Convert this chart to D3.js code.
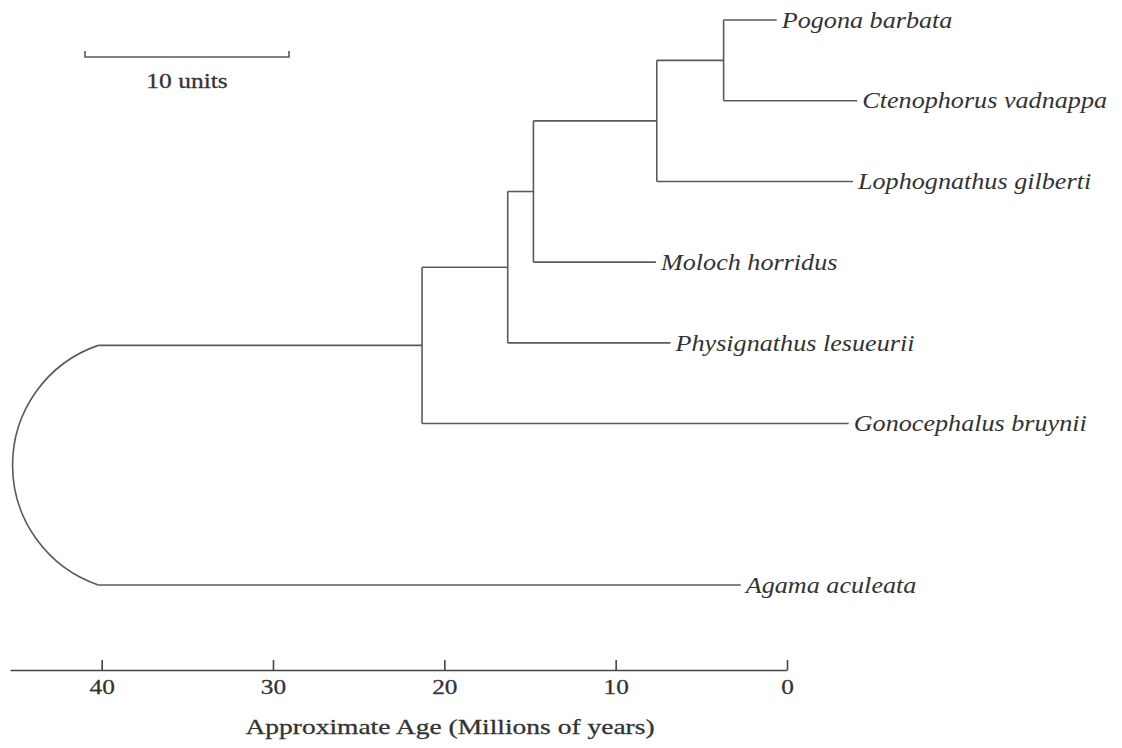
<!DOCTYPE html>
<html>
<head>
<meta charset="utf-8">
<script src="https://cdn.jsdelivr.net/npm/d3@7/dist/d3.min.js"></script>
<style>
  body { margin: 0; background: #fff; }
  .tree path, .tree line { stroke: #5a5a5a; stroke-width: 1.6; fill: none; }
  .taxon { font-family: "Liberation Serif", serif; font-style: italic; font-size: 24px; fill: #333; }
  .axis text { font-family: "Liberation Serif", serif; font-size: 22px; fill: #333; stroke: #333; stroke-width: 0.3; }
  .axis path, .axis line { stroke: #444; stroke-width: 1.6; }
  .title { font-family: "Liberation Serif", serif; font-size: 22px; fill: #333; stroke: #333; stroke-width: 0.3; }
</style>
</head>
<body>
<div class="chart"></div>
<script>
var width = 1122;
var height = 748;

// leaves, top to bottom
var taxa = ["Pogona barbata", "Ctenophorus vadnappa", "Lophognathus gilberti",
  "Moloch horridus", "Physignathus lesueurii", "Gonocephalus bruynii", "Agama aculeata"];
var taxonRow = [0, 1, 2, 3, 4, 5, 7];
// where each tip line stops (axis units, Myr; negative = right of 0)
var tipEnd = [0.6, -4.1, -3.85, 7.65, 6.8, -3.6, 2.7];

// internal nodes, with their two children and age (Myr)
var nodeNames = ["A", "B", "C", "D", "E"];
var nodeChildren = [
  ["Pogona barbata", "Ctenophorus vadnappa"],
  ["A", "Lophognathus gilberti"],
  ["B", "Moloch horridus"],
  ["C", "Physignathus lesueurii"],
  ["D", "Gonocephalus bruynii"]
];
var nodeAge = [3.7, 7.6, 14.8, 16.3, 21.3];

// root joins E and Agama with a curved bracket
var rootChildren = ["E", "Agama aculeata"];
var rootAge = 40.2;
var rootArcAge = 45.2;

var ageTicks = [40, 30, 20, 10, 0];
var axisStart = 45.35;
var scaleBarUnits = 10;

var svg = d3.select(".chart").append("svg")
  .attr("width", width)
  .attr("height", height);

var x = d3.scaleLinear().domain([axisStart, 0]).range([10, 787]);
var y = d3.scaleLinear().domain([0, 7]).range([20, 585]);
var unitScale = d3.scaleLinear().domain([0, scaleBarUnits]).range([85, 289]);

// node positions
var pos = {};
taxa.forEach(function (t, i) {
  pos[t] = { y: y(taxonRow[i]) };
});
nodeNames.forEach(function (n, i) {
  var a = pos[nodeChildren[i][0]], b = pos[nodeChildren[i][1]];
  pos[n] = { x: x(nodeAge[i]), y: (a.y + b.y) / 2 };
});

var tree = svg.append("g").attr("class", "tree");

// vertical bars + horizontal branches for internal nodes
nodeNames.forEach(function (n, i) {
  var p = pos[n];
  var ca = pos[nodeChildren[i][0]], cb = pos[nodeChildren[i][1]];
  tree.append("line")
    .attr("x1", p.x).attr("x2", p.x)
    .attr("y1", ca.y).attr("y2", cb.y);
  nodeChildren[i].forEach(function (c) {
    if (nodeNames.indexOf(c) >= 0) {
      tree.append("line")
        .attr("x1", p.x).attr("x2", pos[c].x)
        .attr("y1", pos[c].y).attr("y2", pos[c].y);
    }
  });
});

function parentX(t) {
  if (rootChildren.indexOf(t) >= 0) return x(rootAge);
  for (var i = 0; i < nodeChildren.length; i++) {
    if (nodeChildren[i].indexOf(t) >= 0) return pos[nodeNames[i]].x;
  }
}

// tip lines
tree.selectAll(".tip")
  .data(taxa)
  .enter()
  .append("line")
  .attr("class", "tip")
  .attr("x1", function (d) { return parentX(d); })
  .attr("x2", function (d, i) { return x(tipEnd[i]); })
  .attr("y1", function (d) { return pos[d].y; })
  .attr("y2", function (d) { return pos[d].y; });

// root: E branch and curved bracket
var upper = pos[rootChildren[0]], lower = pos[rootChildren[1]];
tree.append("line")
  .attr("x1", x(rootAge)).attr("x2", upper.x)
  .attr("y1", upper.y).attr("y2", upper.y);

var h = (lower.y - upper.y) / 2;
var s = x(rootAge) - x(rootArcAge);
var r = (h * h + s * s) / (2 * s);
tree.append("path")
  .attr("d", "M" + x(rootAge) + "," + upper.y +
    " A" + r + "," + r + " 0 0 0 " + x(rootAge) + "," + lower.y);

// taxon labels (the scanned figure is stretched sideways, so text is widened)
svg.selectAll(".taxon")
  .data(taxa)
  .enter()
  .append("text")
  .attr("class", "taxon")
  .attr("transform", function (d, i) {
    return "translate(" + (x(tipEnd[i]) + 5) + "," + pos[d].y + ") scale(1.09,1)";
  })
  .attr("dy", "0.32em")
  .text(function (d) { return d; });

// age axis
var axis = d3.axisBottom(x)
  .tickValues(ageTicks)
  .tickFormat(d3.format("d"))
  .tickSizeInner(-10)
  .tickSizeOuter(0)
  .tickPadding(8);

var axisG = svg.append("g")
  .attr("class", "axis")
  .attr("transform", "translate(0,670)")
  .call(axis);

axisG.selectAll(".tick text")
  .attr("transform", "scale(1.15,1)");

svg.append("text")
  .attr("class", "title")
  .attr("transform", "translate(450,734) scale(1.25,1)")
  .attr("text-anchor", "middle")
  .text("Approximate Age (Millions of years)");

// scale bar
var bar = svg.append("g").attr("class", "tree");
bar.append("path")
  .attr("d", "M" + unitScale(0) + ",51 V57 H" + unitScale(scaleBarUnits) + " V51");
svg.append("text")
  .attr("class", "title")
  .attr("transform", "translate(" + (unitScale(0) + unitScale(scaleBarUnits)) / 2 + ",88) scale(1.16,1)")
  .attr("text-anchor", "middle")
  .text("10 units");
</script>
</body>
</html>
